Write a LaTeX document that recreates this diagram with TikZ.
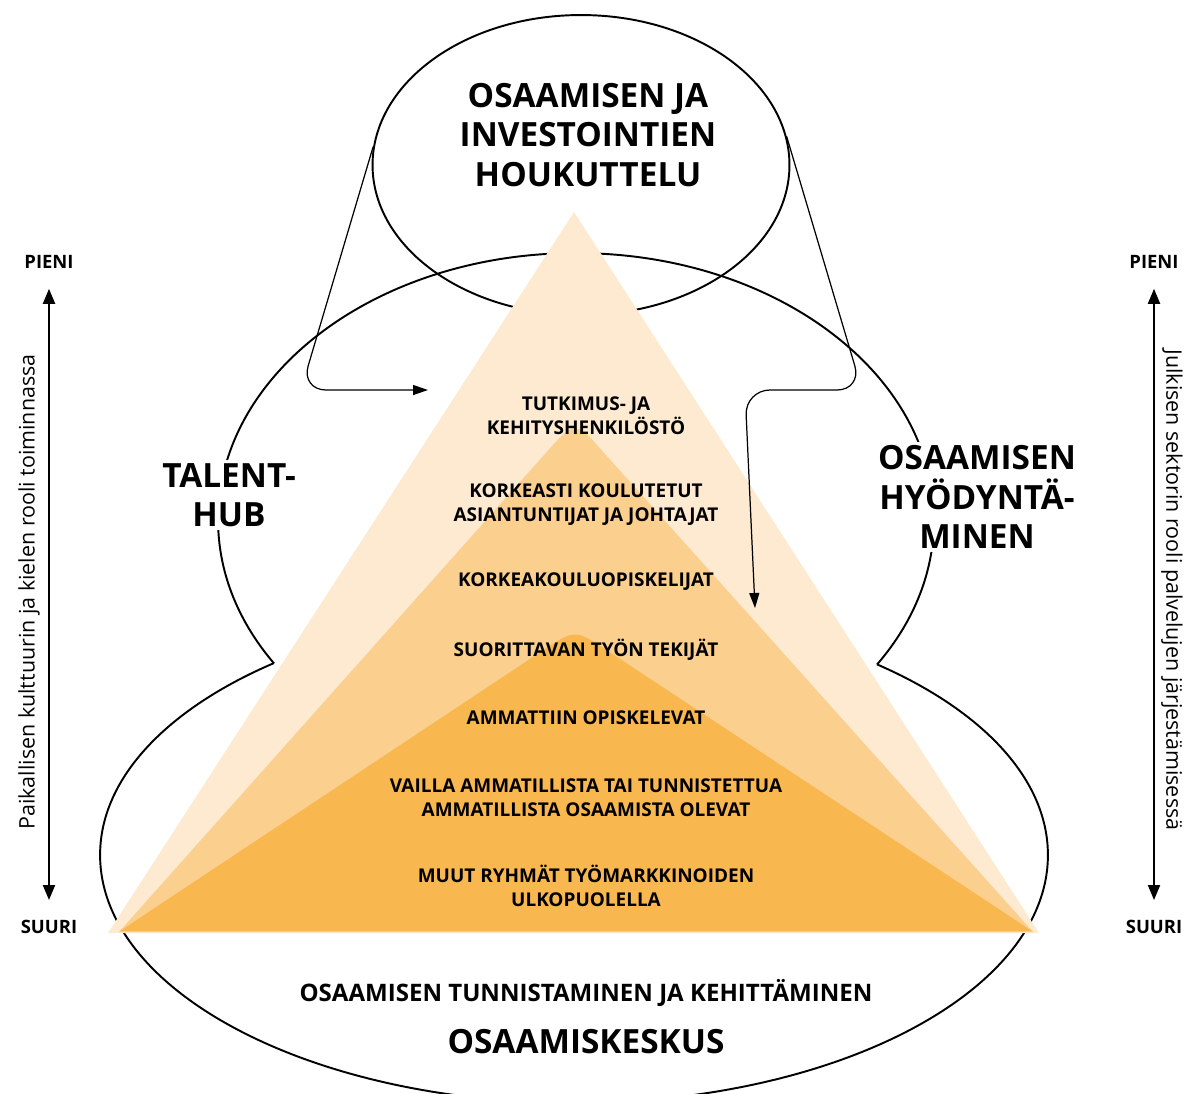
\documentclass[tikz,border=0pt]{standalone}
\usepackage{fontspec}
\setmainfont{Open Sans}
\usetikzlibrary{shapes.geometric,arrows.meta}
\definecolor{pyrlight}{HTML}{FDEAD0}
\definecolor{pyrmid}{HTML}{FBCF8D}
\definecolor{pyrdark}{HTML}{F9B74F}
\begin{document}
\begin{tikzpicture}[x=0.02cm,y=-0.02cm,
  outline/.style={line width=1.1pt},
  link/.style={line width=0.7pt, rounded corners=0.5cm, -{Triangle[length=0.3cm,width=0.2cm]}},
  scalearrow/.style={line width=1.1pt, {Triangle[length=0.3cm,width=0.24cm]}-{Triangle[length=0.3cm,width=0.24cm]}, shorten <=0.28cm, shorten >=0.28cm},
  bigtitle/.style={font=\fontsize{19}{22.5}\selectfont\bfseries, align=center},
  level/.style={font=\fontsize{10.8}{13.6}\selectfont\bfseries, align=center},
  scaletag/.style={font=\fontsize{10.5}{12}\selectfont\bfseries},
  scaletext/.style={font=\fontsize{12.2}{14}\selectfont}]
\useasboundingbox (0,0) rectangle (1186,1093);
\begin{scope}[even odd rule]
\clip (-50,-50) rectangle (1250,1200) (574,855) ellipse [x radius=9.48cm, y radius=4.96cm];
\draw[outline] (576,520) ellipse [x radius=7.16cm, y radius=5.34cm];
\end{scope}
\begin{scope}[even odd rule]
\clip (-50,-50) rectangle (1250,1200) (576,520) ellipse [x radius=7.16cm, y radius=5.34cm];
\draw[outline] (574,855) ellipse [x radius=9.48cm, y radius=4.96cm];
\end{scope}
\node[draw, outline, ellipse, minimum width=8.34cm, minimum height=6cm, inner sep=0pt] (attract) at (581,165) {};
\fill[pyrlight] (574,212) -- (108,933) -- (1039,933) -- cycle;
\fill[pyrmid] (119,932) -- (545,454) .. controls (575,420) .. (605,454) -- (1033,932) -- cycle;
\fill[pyrdark] (120,931) -- (542,651) .. controls (575,629) .. (608,651) -- (1032,931) -- cycle;
\coordinate (tipleft) at (428,390);
\coordinate (tipright) at (755,608);
\draw[link] (attract.175) -- (301,390) -- (tipleft);
\draw[link] (attract.8) -- (862,390) -- (745,390) -- (tipright);
\node[bigtitle] (attracttext) at (588,135) {OSAAMISEN JA\\INVESTOINTIEN\\HOUKUTTELU};
\node[bigtitle, fill=white, inner sep=2pt] (talent) at (229,495) {TALENT-\\HUB};
\node[bigtitle, fill=white, inner sep=2pt] (utilise) at (977,497) {OSAAMISEN\\HYÖDYNTÄ-\\MINEN};
\node[level] (rnd) at (586,416) {TUTKIMUS- JA\\KEHITYSHENKILÖSTÖ};
\node[level] (experts) at (586,505) {KORKEASTI KOULUTETUT\\ASIANTUNTIJAT JA JOHTAJAT};
\node[level] (students) at (586,582) {KORKEAKOULUOPISKELIJAT};
\node[level] (workers) at (586,650) {SUORITTAVAN TYÖN TEKIJÄT};
\node[level] (vocational) at (586,718) {AMMATTIIN OPISKELEVAT};
\node[level] (unskilled) at (586,798) {VAILLA AMMATILLISTA TAI TUNNISTETTUA\\AMMATILLISTA OSAAMISTA OLEVAT};
\node[level] (outside) at (586,886) {MUUT RYHMÄT TYÖMARKKINOIDEN\\ULKOPUOLELLA};
\node[font=\fontsize{13.7}{16}\selectfont\bfseries] (develop) at (586,993) {OSAAMISEN TUNNISTAMINEN JA KEHITTÄMINEN};
\node[font=\fontsize{19}{22}\selectfont\bfseries] (hub) at (586,1042) {OSAAMISKESKUS};
\node[scaletag] (lsmall) at (49,262) {PIENI};
\node[scaletag] (lbig) at (49,927) {SUURI};
\draw[scalearrow] (lsmall) -- (lbig);
\node[scaletag] (rsmall) at (1154,262) {PIENI};
\node[scaletag] (rbig) at (1154,927) {SUURI};
\draw[scalearrow] (rsmall) -- (rbig);
\node[scaletext, rotate=90] (lcaption) at (29,592) {Paikallisen kulttuurin ja kielen rooli toiminnassa};
\node[scaletext, rotate=-90] (rcaption) at (1172,590) {Julkisen sektorin rooli palvelujen järjestämisessä};
\end{tikzpicture}
\end{document}
